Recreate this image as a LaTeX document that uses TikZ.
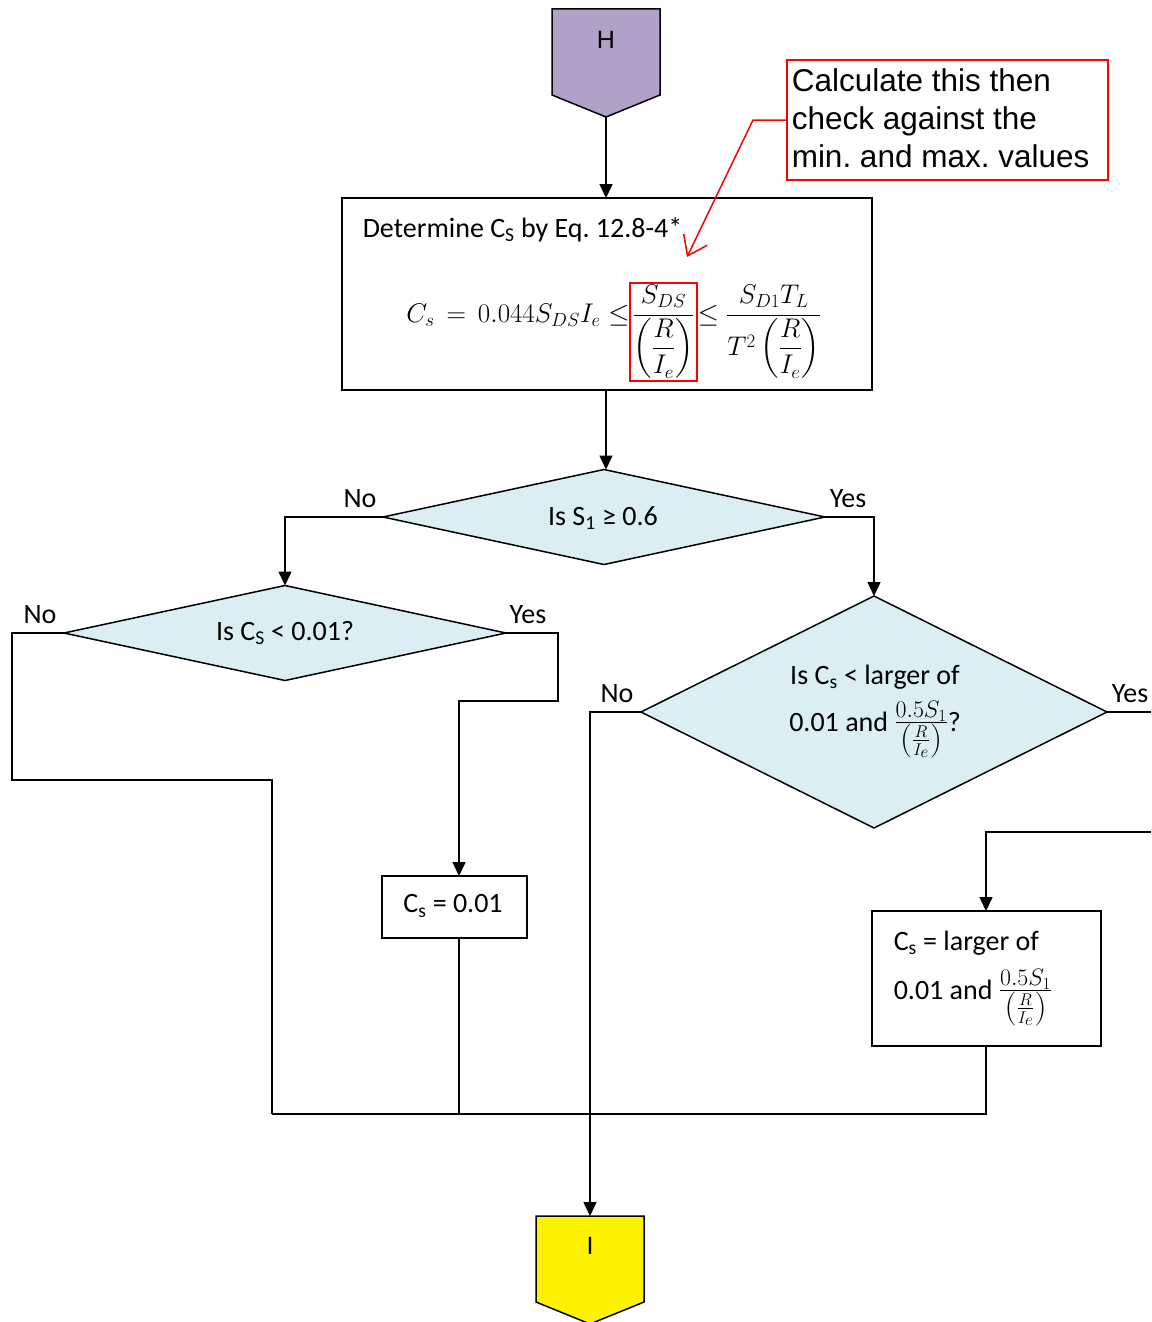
\RequirePackage{fix-cm}
\documentclass[tikz,border=0pt]{standalone}
\usepackage{amsmath}
\usepackage{fontspec}
\setmainfont{Carlito}
\newfontfamily\arialf{Liberation Sans}
\usetikzlibrary{shapes.geometric,arrows.meta}
\definecolor{hpurple}{HTML}{B1A0C7}
\definecolor{dblue}{HTML}{DAEEF3}
\frenchspacing
\newcommand{\smallfrac}{{\fontsize{34}{40}\selectfont$\frac{0.5S_1}{\left(\frac{R}{I_e}\right)}$}}
\tikzset{
  arr/.style={-{Triangle[length=14pt,width=13pt]}},
  dia/.style={diamond, draw, fill=dblue, inner sep=0pt, outer sep=0pt, line width=1.5pt},
  boxnode/.style={draw, rectangle, inner sep=0pt, outer sep=0pt, line width=1.5pt},
  lbl/.style={font=\fontsize{28}{33}\selectfont, inner sep=0pt},
  eqfont/.style={font=\fontsize{27}{32}\selectfont, inner sep=0pt}
}
\begin{document}
\begin{tikzpicture}[x=1pt,y=-1pt,line width=1.5pt]
\useasboundingbox (0,0) rectangle (1151,1322);

% H connector
\draw[fill=hpurple] (552,9) -- (660,9) -- (660,95) -- (606,117) -- (552,95) -- cycle;
\coordinate (Htip) at (606,117);
\node[font=\arialf\fontsize{25}{30}\selectfont] (H) at (606,40) {H};

% Determine box
\node[boxnode, minimum width=530pt, minimum height=192pt] (B1) at (607,294) {};
\node[lbl, anchor=base west] (det) at (362,237) {Determine C\textsubscript{S} by Eq. 12.8-4*};
\node[eqfont, anchor=base east] (eqL) at (630,322) {$C_s \,=\, 0.044S_{DS}I_e \le$};
\node[eqfont, anchor=base, draw=red, line width=1.5pt, inner sep=2.5pt] (eqF) at (663.5,322) {$\dfrac{S_{DS}}{\left(\dfrac{R}{I_e}\right)}$};
\node[eqfont, anchor=base west] (eqR) at (697,322) {$\le \dfrac{S_{D1}T_L}{T^2\left(\dfrac{R}{I_e}\right)}$};

% callout
\node[draw=red, line width=1.5pt, minimum width=321pt, minimum height=120pt, inner sep=0pt, outer sep=0pt] (call) at (947.5,120) {};
\node[font=\arialf\fontsize{31.5}{38}\selectfont, align=left, anchor=west, inner sep=0pt] (calltxt) at (791,118) {Calculate this then\\check against the\\min. and max. values};
\coordinate (cbend) at (753,120);
\coordinate (ctip) at (687,257);
\draw[red, line width=1.5pt, -{Straight Barb[length=18pt,width=26pt]}] (call.west) -- (cbend) -- (ctip);

\draw[arr] (Htip) -- (Htip |- B1.north);

% Diamond 1
\node[dia, aspect=4.6, minimum width=442pt, minimum height=95pt] (D1) at (604,517) {};
\node[lbl] (D1t) at (603,518) {Is S\textsubscript{1} ≥ 0.6};
\draw[arr] (B1.south -| Htip) -- (Htip |- D1.north);
\node[lbl] (noA) at (360,499) {No};
\node[lbl] (yesA) at (848,499) {Yes};

% Diamond 2
\node[dia, aspect=4.6, minimum width=442pt, minimum height=95pt] (D2) at (285,633) {};
\node[lbl] (D2t) at (285,633) {Is C\textsubscript{S} < 0.01?};
\node[lbl] (noB) at (40,615) {No};
\node[lbl] (yesB) at (528,615) {Yes};
\draw[arr] (D1.west) -| (D2.north);

% Diamond 3
\node[dia, aspect=2, minimum width=466pt, minimum height=232pt] (D3) at (874,712) {};
\node[lbl, anchor=base] (D3a) at (875,684) {Is C\textsubscript{s} < larger of};
\node[lbl, anchor=base] (D3b) at (875,731) {0.01 and \smallfrac?};
\node[lbl] (noC) at (617,694) {No};
\node[lbl] (yesC) at (1130,694) {Yes};
\draw[arr] (D1.east) -| (D3.north);

% Cs = 0.01 box
\node[boxnode, minimum width=145pt, minimum height=62pt] (C1) at (454.5,907) {};
\node[lbl] (C1t) at (453,906) {C\textsubscript{s} = 0.01};

% Cs = larger box
\node[boxnode, minimum width=229pt, minimum height=135pt] (C2) at (986.5,978.5) {};
\node[lbl, anchor=base west] (C2a) at (893,950) {C\textsubscript{s} = larger of};
\node[lbl, anchor=base west] (C2b) at (893,999) {0.01 and \smallfrac};

% I connector
\draw[fill=yellow] (536,1216) -- (644,1216) -- (644,1302) -- (590,1324) -- (536,1302) -- cycle;
\coordinate (Itop) at (590,1216);
\node[font=\arialf\fontsize{25}{30}\selectfont] (I) at (590,1246) {I};

% coordinates for routing
\coordinate (J1) at (272,1114);
\coordinate (J2) at (459,1114);
\coordinate (J3) at (986,1114);
\coordinate (redge1) at (1151,712);
\coordinate (redge2) at (1151,832);

% D2 No
\draw (D2.west) -- (12,633) -- (12,780) -- (272,780) -- (J1);
% D2 Yes
\draw[arr] (D2.east) -- (558,633) -- (558,701) -- (459,701) -- (459,876);
% C1 down
\draw (459,938) -- (J2);
% D3 Yes
\draw (D3.east) -- (redge1);
\draw[arr] (redge2) -- (986,832) -- (986,911);
% C2 down and merge
\draw (986,1046) -- (J3) -- (J1);
% D3 No
\draw[arr] (D3.west) -- (Itop |- D3.west) -- (Itop);
\end{tikzpicture}
\end{document}
